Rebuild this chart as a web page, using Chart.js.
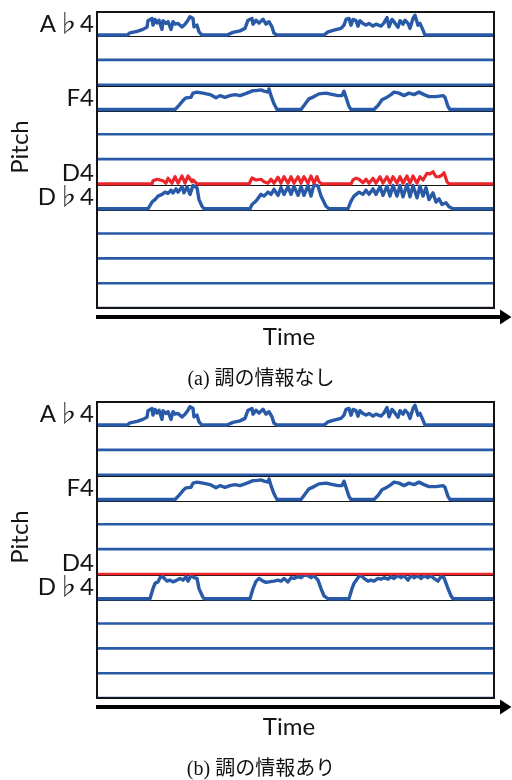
<!DOCTYPE html>
<html><head><meta charset="utf-8">
<script src="https://cdn.jsdelivr.net/npm/chart.js@4.4.1/dist/chart.umd.min.js"></script>
<style>
html,body{margin:0;padding:0;background:#fff;}
.panel{position:relative;width:512px;height:390px;overflow:visible;}
canvas{display:block;}
.cap{position:absolute;left:0;top:366px;width:522px;text-align:center;font-size:20px;line-height:24px;font-family:"Liberation Serif","Noto Sans CJK JP",serif;color:#111;white-space:nowrap;}
</style></head>
<body>
<div class="panel"><canvas id="ca" width="512" height="390"></canvas><div class="cap" id="capA"></div></div>
<div class="panel"><canvas id="cb" width="512" height="390"></canvas><div class="cap" id="capB"></div></div>
<script>
// ---- data ----
const captions = ['(a) 調の情報なし', '(b) 調の情報あり'];
const axisTitles = { x: 'Time', y: 'Pitch' };
const timeRange = [0, 397];
const pitchRange = [57, 68.93];
const gridPitches = [57, 58, 59, 60, 61, 62, 63, 64, 65, 66, 67, 68];
const tickPitches = [68, 65, 62, 61];
const tickLabels = ['A♭4', 'F4', 'D4', 'D♭4'];
const noteBoxPitches = [68, 66, 65, 62, 61];
const flatBluePitches = [67, 66, 64, 63, 60, 59, 58, 57];
const flatRedPitchesB = [62];

// pitch contour over the A♭4 row (same in both panels)
const contourAb = [[0,68],[30,68],[33,68.09],[40,68.15],[46,68.23],[50,68.32],[51,68.58],[55,68.67],[56,68.40],[58,68.63],[60,68.49],[62,68.60],[65,68.23],[66,68.58],[69,68.47],[71,68.54],[74,68.23],[76,68.54],[78,68.44],[81,68.47],[85,68.33],[88,68.44],[91,68.60],[93,68.74],[96,68.67],[97,68.33],[100,68.40],[102,68.13],[105,68],[130,68],[136,68.11],[143,68.17],[148,68.27],[151,68.60],[155,68.67],[156,68.44],[159,68.60],[162,68.48],[166,68.64],[169,68.44],[172,68.54],[175,68.33],[177,68.07],[180,68],[227,68],[231,68.13],[237,68.20],[244,68.27],[247,68.40],[249,68.63],[252,68.67],[254,68.40],[256,68.63],[259,68.58],[261,68.36],[263,68.58],[266,68.47],[269,68.40],[272,68.47],[276,68.36],[279,68.44],[284,68.36],[287,68.49],[290,68.71],[292,68.33],[295,68.63],[297,68.54],[301,68.31],[303,68.58],[306,68.44],[308,68.60],[311,68.47],[313,68.27],[316,68.67],[318,68.80],[321,68.40],[323,68.47],[326,68.20],[328,68],[397,68]];

// pitch contour over the F4 row (same in both panels)
const contourF = [[0,65],[78,65],[81,65.12],[86,65.36],[89,65.47],[94,65.49],[96,65.66],[100,65.70],[106,65.66],[113,65.60],[119,65.47],[123,65.56],[128,65.49],[133,65.56],[138,65.60],[143,65.56],[150,65.66],[156,65.76],[159,65.76],[164,65.79],[167,65.74],[171,65.70],[172,65.83],[174,65.56],[177,65.23],[180,65],[204,65],[207,65.16],[212,65.43],[217,65.52],[222,65.63],[229,65.66],[236,65.60],[241,65.56],[245,65.56],[247,65.74],[249,65.49],[252,65.12],[254,65],[277,65],[281,65.16],[285,65.39],[289,65.47],[294,65.60],[297,65.70],[302,65.66],[307,65.56],[312,65.66],[317,65.60],[322,65.70],[327,65.60],[332,65.52],[339,65.52],[346,65.56],[348,65.49],[351,65.12],[353,65],[397,65]];

// (a) D♭4 row contour, without key information
const contourDbA = [[0,61],[51,61],[55,61.27],[58,61.37],[61,61.51],[65,61.58],[68,61.67],[71,61.62],[74,61.75],[76,61.64],[79,61.80],[81,61.67],[85,61.89],[87,61.64],[90,61.89],[93,61.58],[96,61.94],[100,61.85],[102,61.37],[105,61.10],[107,61],[153,61],[155,61.17],[159,61.31],[164,61.58],[167,61.51],[171,61.67],[174,61.58],[177,61.78],[181,61.54],[184,61.85],[187,61.58],[191,61.89],[194,61.58],[197,61.91],[201,61.54],[204,61.91],[207,61.54],[211,61.94],[214,61.51],[217,61.98],[221,61.91],[224,61.51],[229,61.10],[232,61],[251,61],[254,61.31],[257,61.51],[262,61.67],[266,61.58],[269,61.75],[272,61.58],[276,61.80],[279,61.58],[283,61.89],[286,61.54],[290,61.91],[293,61.51],[296,61.94],[300,61.51],[303,61.94],[306,61.48],[310,61.98],[313,61.48],[316,61.94],[320,61.44],[323,61.91],[326,61.51],[329,61.85],[332,61.37],[336,61.64],[339,61.27],[342,61.40],[345,61.17],[349,61.24],[352,61.08],[356,61],[397,61]];

// (a) D4 row contour (red), without key information
const contourDA = [[0,62],[55,62],[56,62.13],[60,62.19],[63,62.16],[66,62.13],[69,62.03],[71,62.23],[75,62.03],[78,62.29],[81,62.03],[85,62.32],[88,62.03],[91,62.32],[95,62.09],[96,62.16],[100,62],[152,62],[155,62.24],[159,62.16],[164,62.19],[167,62.09],[171,62.03],[174,62.19],[177,62.03],[181,62.27],[184,62.03],[187,62.29],[191,62.03],[194,62.29],[197,62.03],[201,62.29],[204,62.03],[207,62.29],[211,62.03],[214,62.32],[217,62.03],[220,62.29],[222,62.09],[225,62],[254,62],[256,62.16],[259,62.23],[262,62.19],[266,62.05],[269,62.19],[272,62.03],[276,62.23],[279,62.03],[283,62.29],[286,62.03],[290,62.29],[293,62.03],[296,62.29],[300,62.03],[303,62.29],[306,62.03],[310,62.32],[313,62.03],[316,62.32],[320,62.03],[323,62.29],[326,62.16],[330,62.43],[333,62.40],[336,62.49],[339,62.29],[342,62.29],[345,62.36],[347,62.45],[350,62.09],[352,62],[397,62]];

// (b) D♭4 row contour, with key information
const contourDbB = [[0,61],[53,61],[56,61.41],[58,61.62],[61,61.68],[63,61.85],[66,61.89],[68,61.79],[70,61.71],[73,61.75],[76,61.68],[80,61.75],[83,61.82],[86,61.75],[89,61.89],[91,61.71],[94,61.93],[97,61.85],[100,61.82],[102,61.41],[105,61.14],[107,61],[153,61],[156,61.41],[159,61.70],[162,61.82],[166,61.71],[169,61.66],[172,61.68],[177,61.71],[181,61.75],[184,61.71],[187,61.82],[191,61.68],[194,61.85],[197,61.82],[201,61.89],[204,61.85],[207,61.95],[211,61.93],[214,61.85],[217,61.93],[221,61.75],[224,61.41],[227,61.12],[231,61],[252,61],[255,61.41],[257,61.62],[261,61.85],[264,61.95],[267,61.82],[271,61.71],[274,61.75],[277,61.71],[281,61.82],[284,61.79],[287,61.85],[291,61.79],[294,61.89],[297,61.82],[301,61.93],[304,61.85],[307,61.93],[311,61.75],[314,61.93],[317,61.85],[321,61.93],[324,61.82],[327,61.93],[331,61.85],[334,61.93],[337,61.82],[341,61.71],[344,61.89],[347,61.85],[351,61.41],[354,61.12],[356,61],[397,61]];

// ---- styling ----
const BLUE = 'rgb(40,90,168)';
const RED = 'rgb(236,38,42)';
const INK = '#141414';
const SANS = 'Lato, "Noto Sans CJK JP", "DejaVu Sans", sans-serif';

const toPts = arr => arr.map(([x, y]) => ({ x, y }));
const flatLine = p => [{ x: timeRange[0], y: p }, { x: timeRange[1], y: p }];

const decor = {
  id: 'decor',
  beforeDatasetsDraw(chart) {
    const { ctx, chartArea: a, scales: { y } } = chart;
    ctx.save();
    ctx.strokeStyle = INK; ctx.lineWidth = 1;
    noteBoxPitches.forEach(p => {
      const py = Math.round(y.getPixelForValue(p)) + 1.5;
      ctx.beginPath(); ctx.moveTo(a.left, py); ctx.lineTo(a.right, py); ctx.stroke();
    });
    ctx.restore();
  },
  afterDatasetsDraw(chart) {
    const { ctx, chartArea: a } = chart;
    ctx.save();
    ctx.strokeStyle = INK; ctx.lineWidth = 2;
    ctx.strokeRect(a.left, a.top, a.right - a.left, a.bottom - a.top);
    ctx.restore();
  },
  afterDraw(chart) {
    const { ctx, chartArea: a } = chart;
    ctx.save();
    // time arrow
    const ay = a.bottom + 9;
    ctx.strokeStyle = '#000'; ctx.fillStyle = '#000'; ctx.lineWidth = 4;
    ctx.beginPath(); ctx.moveTo(a.left - 1, ay); ctx.lineTo(chart.width - 10, ay); ctx.stroke();
    ctx.beginPath();
    ctx.moveTo(chart.width - 12, ay - 7.5); ctx.lineTo(chart.width - 0.5, ay); ctx.lineTo(chart.width - 12, ay + 7.5);
    ctx.closePath(); ctx.fill();
    // axis titles
    ctx.fillStyle = INK;
    ctx.font = '24px ' + SANS;
    ctx.textAlign = 'center'; ctx.textBaseline = 'middle';
    ctx.fillText(axisTitles.x, a.left + 192, a.bottom + 29);
    ctx.translate(a.left - 77, a.top + 135);
    ctx.rotate(-Math.PI / 2);
    ctx.fillText(axisTitles.y, 0, 0);
    ctx.restore();
  }
};

function makeChart(id, datasets) {
  return new Chart(document.getElementById(id), {
    type: 'line',
    data: { datasets },
    options: {
      responsive: false,
      animation: false,
      events: [],
      layout: { padding: { top: 12, right: 18, bottom: 82, left: 0 } },
      elements: { point: { radius: 0 }, line: { tension: 0, borderCapStyle: 'round', borderJoinStyle: 'round' } },
      plugins: { legend: { display: false }, tooltip: { enabled: false } },
      scales: {
        x: { type: 'linear', display: false, min: timeRange[0], max: timeRange[1] },
        y: {
          type: 'linear', min: pitchRange[0], max: pitchRange[1],
          afterBuildTicks: s => { s.ticks = gridPitches.map(v => ({ value: v })); },
          afterFit: s => { s.width = 97; s.paddingTop = 0; s.paddingBottom = 0; },
          grid: { display: false, drawTicks: false },
          border: { display: false },
          ticks: {
            autoSkip: false, padding: 3, labelOffset: -11, color: INK,
            font: { family: SANS, size: 24 },
            callback: v => { const i = tickPitches.indexOf(v); return i < 0 ? '' : tickLabels[i]; }
          }
        }
      }
    },
    plugins: [decor]
  });
}

function contourSet(arr, color, w) {
  return { data: toPts(arr), borderColor: color, borderWidth: w, fill: false };
}

const flatSet = (p, color) => ({ data: flatLine(p), borderColor: color, borderWidth: 2.6, fill: false });

makeChart('ca', [
  contourSet(contourDA, RED, 3.2),
  contourSet(contourAb, BLUE, 3.4),
  contourSet(contourF, BLUE, 3.4),
  contourSet(contourDbA, BLUE, 3.4),
  ...flatBluePitches.map(p => flatSet(p, BLUE))
]);

makeChart('cb', [
  ...flatRedPitchesB.map(p => flatSet(p, RED)),
  contourSet(contourAb, BLUE, 3.4),
  contourSet(contourF, BLUE, 3.4),
  contourSet(contourDbB, BLUE, 3.4),
  ...flatBluePitches.map(p => flatSet(p, BLUE))
]);

document.getElementById('capA').textContent = captions[0];
document.getElementById('capB').textContent = captions[1];
</script>
</body></html>
